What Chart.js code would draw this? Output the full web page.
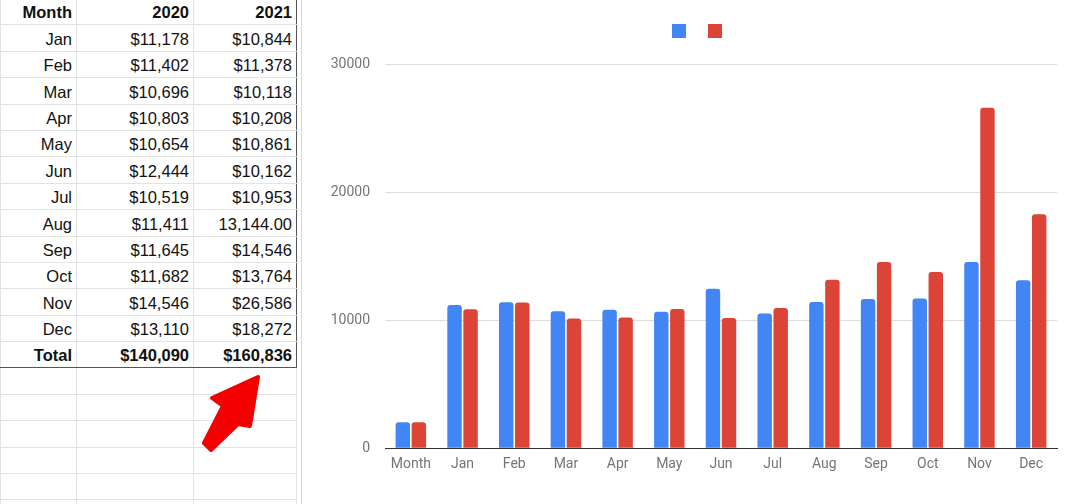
<!DOCTYPE html>
<html>
<head>
<meta charset="utf-8">
<script src="https://cdn.jsdelivr.net/npm/chart.js@4.4.1/dist/chart.umd.min.js"></script>
<style>
  html,body{margin:0;padding:0;background:#fff;width:1075px;height:504px;overflow:hidden;position:relative;font-family:"Liberation Sans",Arial,sans-serif;}
  #sheet{position:absolute;left:0;top:-2px;border-collapse:collapse;}
  #sheet td{height:26.4px;padding:0 4px 3px 0;border:1px solid #e2e2e2;text-align:right;font-size:16.5px;line-height:18px;color:#111;vertical-align:bottom;box-sizing:border-box;}
  #sheet td.c1{width:76px;}
  #sheet td.c2{width:117px;}
  #sheet td.c3{width:103px;}
  #sheet tr.hdr td, #sheet tr.tot td{font-weight:bold;}
  #sheet tr.tot td{border-bottom:1px solid #555;}
  #sheet td.c3.data{border-right:1px solid #555;}
  #colline{position:absolute;left:301px;top:0;width:1px;height:504px;background:#d6d6d6;}
  #wrap{position:absolute;left:305px;top:0;width:770px;height:504px;}
  #arrow{position:absolute;left:0;top:0;}
</style>
</head>
<body>
<table id="sheet"></table>
<div id="colline"></div>
<div id="wrap"><canvas id="barChart"></canvas></div>
<svg id="arrow" width="300" height="504">
  <polygon points="258,377 212,398 223,406 204,443 211,450 238,424 250,426" fill="#f40000" stroke="#f40000" stroke-width="4" stroke-linejoin="round"/>
</svg>
<script>
// DATA
const months = ['Jan','Feb','Mar','Apr','May','Jun','Jul','Aug','Sep','Oct','Nov','Dec'];
const years = [2020, 2021];
const sales2020 = [11178,11402,10696,10803,10654,12444,10519,11411,11645,11682,14546,13110];
const sales2021 = [10844,11378,10118,10208,10861,10162,10953,13144,14546,13764,26586,18272];
const plainCells2021 = ['Aug']; // typed without $ in the sheet
const yTicks = [0, 10000, 20000, 30000];
const emptyRows = 6;

const money = v => '$' + v.toLocaleString('en-US');
const plain = v => v.toLocaleString('en-US',{minimumFractionDigits:2});
const sum = a => a.reduce((s,v)=>s+v,0);

// spreadsheet table
const sheet = document.getElementById('sheet');
let html = `<tr class="hdr"><td class="c1">Month</td><td class="c2">${years[0]}</td><td class="c3 data">${years[1]}</td></tr>`;
months.forEach((m,i)=>{
  const v21 = plainCells2021.includes(m) ? plain(sales2021[i]) : money(sales2021[i]);
  html += `<tr><td class="c1">${m}</td><td class="c2">${money(sales2020[i])}</td><td class="c3 data">${v21}</td></tr>`;
});
html += `<tr class="tot"><td class="c1">Total</td><td class="c2">${money(sum(sales2020))}</td><td class="c3 data">${money(sum(sales2021))}</td></tr>`;
for(let i=0;i<emptyRows;i++) html += '<tr><td class="c1"></td><td class="c2"></td><td class="c3"></td></tr>';
sheet.innerHTML = html;

// Chart.js
const legendGap = {
  id:'legendGap',
  beforeInit(chart){
    const fit = chart.legend.fit;
    chart.legend.fit = function(){ fit.bind(chart.legend)(); this.height += 16; };
  },
  afterLayout(chart){ chart.legend.left += 7; chart.legend.right += 7; }
};

const ctx = document.getElementById('barChart').getContext('2d');
const chart = new Chart(ctx, {
  type:'bar',
  data:{
    labels:['Month', ...months],
    datasets:[
      {label:'', data:[years[0], ...sales2020], backgroundColor:'#4285F4', borderRadius:{topLeft:3,topRight:3}, borderSkipped:'bottom'},
      {label:'', data:[years[1], ...sales2021], backgroundColor:'#DB4437', borderRadius:{topLeft:3,topRight:3}, borderSkipped:'bottom'}
    ]
  },
  options:{
    responsive:true, maintainAspectRatio:false, animation:false,
    categoryPercentage:0.62, barPercentage:0.9,
    layout:{padding:{top:9,left:25,right:18,bottom:23}},
    plugins:{
      legend:{labels:{boxWidth:14,boxHeight:14,padding:15,font:{size:14}}, onClick:null},
      tooltip:{enabled:false}
    },
    scales:{
      x:{
        grid:{display:false, drawTicks:false},
        border:{color:'#333',width:1},
        ticks:{color:'#757575',font:{family:'Roboto',size:14},padding:8,maxRotation:0}
      },
      y:{
        min:yTicks[0], max:yTicks[yTicks.length-1],
        afterBuildTicks(s){ s.ticks = yTicks.map(v=>({value:v})); },
        afterFit(s){ s.width = 55; },
        grid:{color:'#dddddd', drawTicks:false},
        border:{display:false},
        ticks:{color:'#757575',font:{family:'Roboto',size:14},padding:15,callback:v=>String(v)}
      }
    }
  },
  plugins:[legendGap]
});
</script>
</body>
</html>
